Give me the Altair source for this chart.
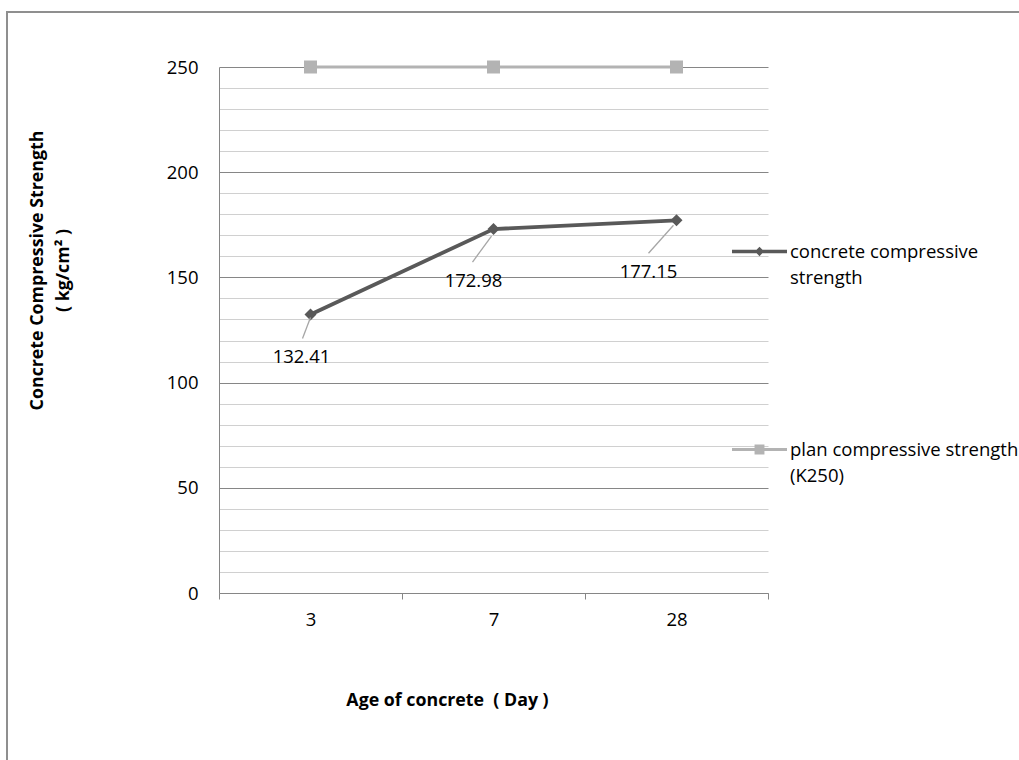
import altair as alt
import pandas as pd

# ---- data ----
ages = ["3", "7", "28"]
concrete_strength = [132.41, 172.98, 177.15]
plan_strength = [250, 250, 250]
series_names = ["concrete compressive strength", "plan compressive strength (K250)"]
legend_lines = {
    "concrete compressive strength": ["concrete compressive", "strength"],
    "plan compressive strength (K250)": ["plan compressive strength", "\u2002(K250)"],
}
y_tick_values = list(range(0, 251, 10))
x_title = "Age of concrete \u00a0( Day )"
y_title = ["Concrete Compressive Strength", "( kg/cm\u00b2 )"]

rows = []
for i, a in enumerate(ages):
    rows.append({"idx": i, "age": a, "series": series_names[0], "value": concrete_strength[i]})
    rows.append({"idx": i, "age": a, "series": series_names[1], "value": plan_strength[i]})
df = pd.DataFrame(rows)

FONT = "Open Sans"
FS = 18.5
TFS = 17.8
DARK = "#595959"
LIGHT = "#b3b3b3"
AXIS_GREY = "#868686"

age_array = "[" + ",".join("'" + a + "'" for a in ages) + "]"
x_axis = alt.Axis(
    values=[-0.5, 0, 0.5, 1, 1.5, 2, 2.5],
    labelExpr="datum.value % 1 === 0 ? " + age_array + "[datum.value] : ''",
    tickOpacity={"condition": {"test": "datum.value % 1 !== 0", "value": 1}, "value": 0},
    grid=False, domainColor=AXIS_GREY, tickColor=AXIS_GREY, tickSize=6,
    labelPadding=11, labelFont=FONT, labelFontSize=FS, labelColor="#000000",
    labelOverlap=False, labelFlush=False,
    title=x_title, titleFont=FONT, titleFontSize=TFS, titleFontWeight="bold",
    titleColor="#000000", titleX=228, titleY=107, titleBaseline="middle", titleAlign="center",
)
y_axis = alt.Axis(
    values=y_tick_values,
    labelExpr="datum.value % 50 === 0 ? datum.label : ''",
    grid=True,
    gridColor={"condition": {"test": "datum.value % 50 === 0", "value": AXIS_GREY}, "value": "#d0d0d0"},
    gridWidth=1, ticks=False, tickSize=0,
    domainColor=AXIS_GREY, labelPadding=21, labelFont=FONT, labelFontSize=FS,
    labelColor="#000000", labelOverlap=False,
    title=y_title, titleFont=FONT, titleFontSize=TFS, titleFontWeight="bold", titleColor="#000000",
    titleLineHeight=26, titleX=-182, titleY=203, titleAngle=270,
    titleBaseline="middle", titleAlign="center",
)

x_enc = alt.X("idx:Q", scale=alt.Scale(domain=[-0.5, 2.5], nice=False, zero=False), axis=x_axis)
y_enc = alt.Y("value:Q", scale=alt.Scale(domain=[0, 250], nice=False, zero=True), axis=y_axis)

# legend symbols: line + marker, shifted up so they sit on the first label line
sym_concrete = "M-1,-0.284H1V-0.156H-1Z M0,-0.39L0.17,-0.22L0,-0.05L-0.17,-0.22Z"
sym_plan = "M-1,-0.275H1V-0.165H-1Z M-0.18,-0.4H0.18V-0.04H-0.18Z"
c_lines = legend_lines[series_names[0]]
p_lines = legend_lines[series_names[1]]
label_expr = ("datum.label === '" + series_names[0] + "' ? ['" + c_lines[0] + "','" + c_lines[1]
              + "'] : ['" + p_lines[0] + "','" + p_lines[1] + "']")

legend = alt.Legend(
    orient="none", legendX=513, legendY=163, title=None, padding=0,
    symbolSize=3025, labelOffset=3, rowPadding=141, labelLimit=0,
    symbolStrokeWidth=0, symbolOpacity=1,
    labelFont=FONT, labelFontSize=FS, labelColor="#000000", labelBaseline="alphabetic",
    labelExpr=label_expr,
)

base = alt.Chart(df)

line_plan = base.transform_filter(alt.datum.series == series_names[1]).mark_line(
    color=LIGHT, strokeWidth=3.0).encode(x=x_enc, y=y_enc)
line_concrete = base.transform_filter(alt.datum.series == series_names[0]).mark_line(
    color=DARK, strokeWidth=3.8).encode(x=x_enc, y=y_enc)

pts_concrete = base.transform_filter(alt.datum.series == series_names[0]).mark_point(
    shape="diamond", filled=True, color=DARK, size=144, opacity=1
).encode(x=x_enc, y=y_enc)

pts_plan = base.transform_filter(alt.datum.series == series_names[1]).mark_point(
    shape="square", filled=True, color=LIGHT, size=169, opacity=1
).encode(x=x_enc, y=y_enc)

# legend carrier: draws nothing, only feeds the color/shape legend
legend_carrier = base.transform_filter("false").mark_point(
    filled=True, size=3025, opacity=1, strokeWidth=0
).encode(
    x=x_enc, y=y_enc,
    color=alt.Color("series:N", scale=alt.Scale(domain=series_names, range=[DARK, LIGHT]), legend=legend),
    shape=alt.Shape("series:N", scale=alt.Scale(domain=series_names, range=[sym_concrete, sym_plan]), legend=legend),
)

# per-label placement (style) for the data labels and their leader lines
label_style = {
    0: dict(s=(0, 3), e=(-8, 24), t=(-9, 43)),
    1: dict(s=(-2, 7), e=(-21, 33), t=(-20, 52)),
    2: dict(s=(-3, 5), e=(-28, 33), t=(-28, 52)),
}
label_layers = []
for i, st in label_style.items():
    sub = base.transform_filter((alt.datum.series == series_names[0]) & (alt.datum.idx == i))
    leader = sub.mark_rule(
        color="#a6a6a6", strokeWidth=1.3,
        xOffset=st["s"][0], yOffset=st["s"][1], x2Offset=st["e"][0], y2Offset=st["e"][1],
    ).encode(x=x_enc, x2="idx:Q", y=y_enc, y2="value:Q")
    txt = sub.mark_text(
        font=FONT, fontSize=FS, color="#000000", align="center", baseline="middle",
        dx=st["t"][0], dy=st["t"][1],
    ).encode(x=x_enc, y=y_enc, text=alt.Text("value:Q", format=".2f"))
    label_layers += [leader, txt]

frame_df = pd.DataFrame({"k": [0]})
frame_top = alt.Chart(frame_df).mark_rule(color="#8f8f8f", strokeWidth=2).encode(
    x=alt.value(-212), x2=alt.value(800), y=alt.value(-55))
frame_left = alt.Chart(frame_df).mark_rule(color="#8f8f8f", strokeWidth=2).encode(
    x=alt.value(-212), y=alt.value(-56), y2=alt.value(693))

chart = alt.layer(
    line_plan, line_concrete, pts_plan, pts_concrete, legend_carrier,
    *label_layers, frame_top, frame_left
).properties(
    width=549, height=526,
    padding={"left": 219, "top": 67, "right": 251, "bottom": 167},
    autosize=alt.AutoSizeParams(type="none"),
    background="#ffffff",
).configure(
    style={"guide-label": {"lineHeight": 26}, "cell": {"stroke": "transparent", "strokeWidth": 0}},
    view=alt.ViewConfig(stroke="transparent", strokeWidth=0),
)

chart.save("out.html", embed_options={"renderer": "svg", "actions": False})
